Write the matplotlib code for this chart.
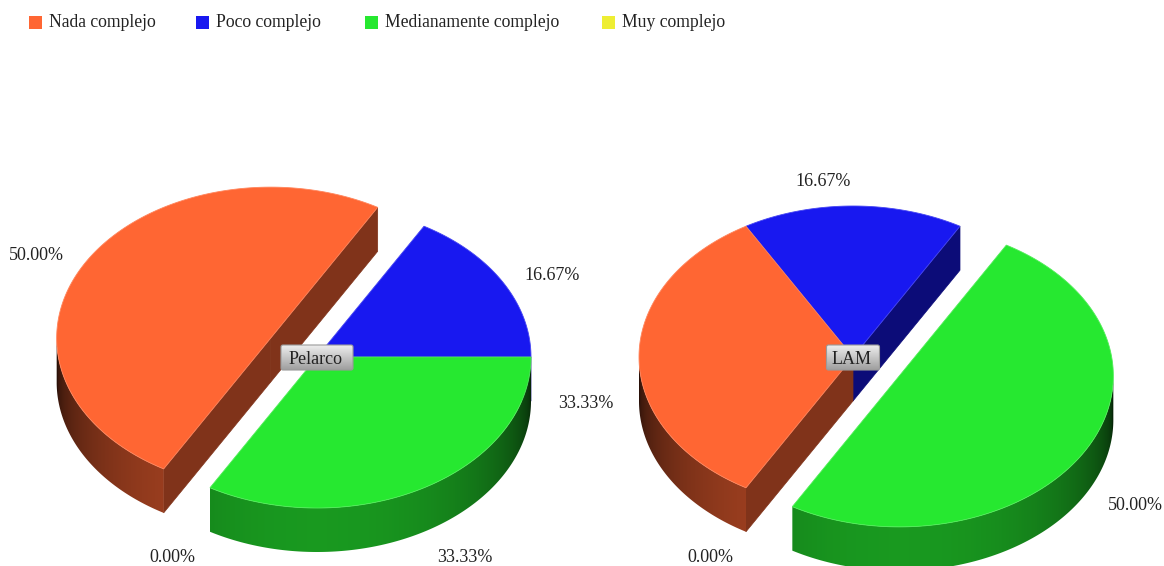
# 3D looking pies for two groups, drawn by hand from the percentages

import numpy as np
import matplotlib
matplotlib.use("Agg")
import matplotlib.pyplot as plt
from matplotlib.patches import Polygon, Rectangle, FancyBboxPatch

categories = ["Nada complejo", "Poco complejo", "Medianamente complejo", "Muy complejo"]
groups = ["Pelarco", "LAM"]
pelarco_values = [50.00, 16.67, 33.33, 0.00]
lam_values = [33.33, 16.67, 50.00, 0.00]
colors = ["#FF6633", "#1818F0", "#26E830", "#EEEE33"]

# layout, in pixels of the picture
WIDTH, HEIGHT = 1164, 566
RX, RY, DEPTH = 214, 151, 44
START = 240  # first slice starts here and the others go clockwise
EXPLODE = 0.25
pelarco_center = (317, 357)
lam_center = (853, 357)
pelarco_explode = [EXPLODE, 0, 0, 0]
lam_explode = [0, 0, EXPLODE, 0]
pelarco_label_pos = [(36, 256), (552, 276), (465, 558), (172, 558)]
lam_label_pos = [(586, 403), (823, 182), (1135, 505), (710, 558)]
legend_x = [29, 196, 365, 602]
legend_y = 22
FONT = "Liberation Serif"
TEXT_COLOR = "#222222"

plt.rcParams["font.family"] = FONT

fig = plt.figure(figsize=(WIDTH / 100, HEIGHT / 100), dpi=100)
ax = fig.add_axes([0, 0, 1, 1])
ax.set_xlim(0, WIDTH)
ax.set_ylim(HEIGHT, 0)
ax.axis("off")


def shade(color, f):
    return tuple(c * f for c in matplotlib.colors.to_rgb(color))


def lighten(color, f):
    return tuple(c + (1 - c) * f for c in matplotlib.colors.to_rgb(color))


def ellipse(cx, cy, deg):
    r = np.radians(deg)
    return np.column_stack([cx + RX * np.cos(r), cy - RY * np.sin(r)])


def draw_face(p0, p1, color, z):
    # flat wall going down from the edge p0-p1
    pts = [p0, p1, (p1[0], p1[1] + DEPTH), (p0[0], p0[1] + DEPTH)]
    ax.add_patch(Polygon(pts, closed=True, fc=shade(color, 0.5), ec=shade(color, 0.5), lw=0.5, zorder=z))


def draw_rim(cx, cy, a_hi, a_lo, color, z):
    # outer wall, only the part below the middle line can be seen
    angles = np.linspace(a_lo, a_hi, 400)
    angles = angles[np.sin(np.radians(angles)) <= 0]
    if len(angles) < 2:
        return
    top = ellipse(cx, cy, angles)
    pts = np.vstack([top, top[::-1] + (0, DEPTH)])
    poly = Polygon(pts, closed=True, fc="none", ec="none", zorder=z)
    ax.add_patch(poly)
    # colour changes with x, darkest at the far left and right of the pie
    xs = np.arange(top[:, 0].min() - 1, top[:, 0].max() + 2)
    u = np.clip((xs - cx) / RX, -1, 1)
    f = 0.16 + 0.5 * (1 - u ** 2) ** 0.45
    base = np.array(matplotlib.colors.to_rgb(color))
    grad = (f[:, None] * base)[None, :, :]
    im = ax.imshow(grad, extent=(xs[0], xs[-1], pts[:, 1].max(), pts[:, 1].min()),
                   aspect="auto", zorder=z, interpolation="bilinear")
    im.set_clip_path(poly)


def draw_slice(cx, cy, a_hi, a_lo, color, z):
    # slice goes clockwise from a_hi down to a_lo
    angles = np.linspace(a_hi, a_lo, 200)
    arc = ellipse(cx, cy, angles)

    # flat walls, only the ones turned to the viewer
    if np.sin(np.radians(a_hi + 90)) < 0:
        draw_face((cx, cy), arc[0], color, z)
    if np.sin(np.radians(a_lo - 90)) < 0:
        draw_face((cx, cy), arc[-1], color, z)

    draw_rim(cx, cy, a_hi, a_lo, color, z)

    # top of the slice
    pts = np.vstack([[cx, cy], arc])
    ax.add_patch(Polygon(pts, closed=True, fc=color, ec=lighten(color, 0.2), lw=0.6, zorder=z + 0.5))


def draw_pie(name, values, center, explode, label_pos, box_w):
    total = sum(values)
    a = START
    slices = []
    for v, e, c in zip(values, explode, colors):
        b = a - v / total * 360
        mid = np.radians((a + b) / 2)
        cx = center[0] + e * RX * np.cos(mid)
        cy = center[1] - e * RY * np.sin(mid)
        if v > 0:
            slices.append((cy - 0.5 * RY * np.sin(mid), cx, cy, a, b, c))
        a = b
    # back to front
    for i, (_, cx, cy, a, b, c) in enumerate(sorted(slices, key=lambda s: s[0])):
        draw_slice(cx, cy, a, b, c, 2 + i)

    for v, pos in zip(values, label_pos):
        ax.text(pos[0], pos[1], f"{v:.2f}%", ha="center", va="center", fontsize=13, color=TEXT_COLOR, zorder=10)

    # name of the group on a small grey button
    x0, y0 = center[0] - box_w / 2, 345
    box = FancyBboxPatch((x0, y0), box_w, 25, boxstyle="round,pad=0,rounding_size=2",
                         fc="none", ec="#9a9a9a", lw=0.8, zorder=11)
    ax.add_patch(box)
    grad = np.linspace(0.93, 0.62, 64).reshape(-1, 1)
    im = ax.imshow(grad, cmap="gray", vmin=0, vmax=1, extent=(x0, x0 + box_w, y0 + 25, y0),
                   aspect="auto", zorder=10.5)
    im.set_clip_path(box)
    ax.text(center[0] - 1.5, y0 + 14, name, ha="center", va="center", fontsize=13, color=TEXT_COLOR, zorder=12)


draw_pie(groups[0], pelarco_values, pelarco_center, pelarco_explode, pelarco_label_pos, 72)
draw_pie(groups[1], lam_values, lam_center, lam_explode, lam_label_pos, 53)
ax.set_xlim(0, WIDTH)
ax.set_ylim(HEIGHT, 0)

# legend across the top
for name, c, x in zip(categories, colors, legend_x):
    ax.add_patch(Rectangle((x, legend_y - 6.5), 13, 13, fc=c, ec="none", zorder=5))
    ax.text(x + 20, legend_y + 0.5, name, ha="left", va="center", fontsize=12.7, color=TEXT_COLOR, zorder=5)

fig.savefig("out.png", dpi=100)
